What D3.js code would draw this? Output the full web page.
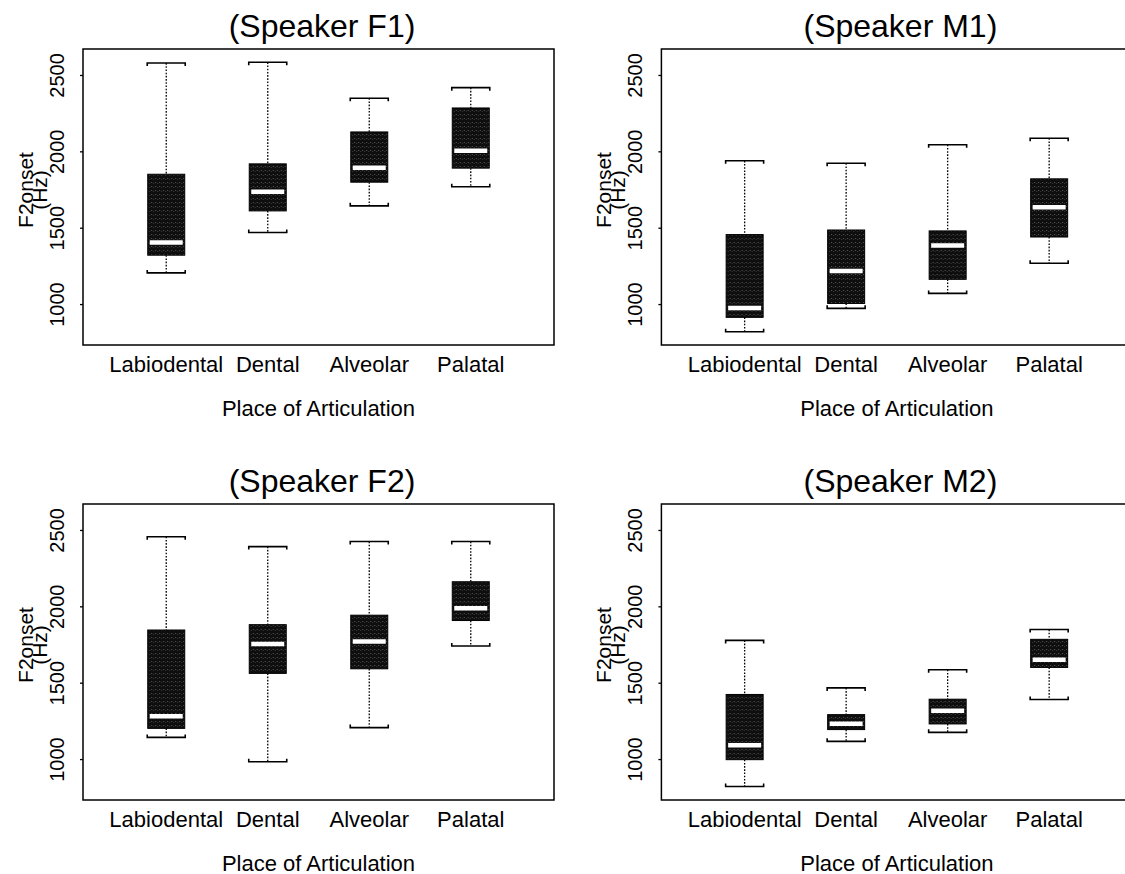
<!DOCTYPE html>
<html lang="en">
<head>
<meta charset="UTF-8" />
<title>F2 onset by place of articulation</title>
<script src="https://d3js.org/d3.v7.min.js"></script>
<style>
  body { margin: 0; background: #fff; font-family: "Liberation Sans", Arial, sans-serif; }
  svg { display: block; background: #fff; }
  .frame { fill: none; stroke: #000; stroke-width: 1.5; }
  .whisker { stroke: #000; stroke-width: 1.3; stroke-dasharray: 1.6,1.6; }
  .cap { fill: none; stroke: #000; stroke-width: 1.6; }
  .median { stroke: #fff; stroke-width: 4.5; }
  .title { font-size: 32px; fill: #000; }
  .cat { font-size: 22px; fill: #000; }
  .xlab { font-size: 22px; fill: #000; }
  .ylab { font-size: 21px; fill: #000; }
</style>
</head>
<body>
<svg id="chart" width="1125" height="874"></svg>
<script>
// data: five-number summaries [lower whisker, Q1, median, Q3, upper whisker]
const categories = ["Labiodental", "Dental", "Alveolar", "Palatal"];
const speakers = ["F1", "M1", "F2", "M2"];
const yTicks = [1000, 1500, 2000, 2500];

const statsF1 = [
  [1204, 1320, 1403, 1850, 2578],
  [1469, 1610, 1735, 1918, 2583],
  [1643, 1798, 1892, 2127, 2348],
  [1768, 1890, 2003, 2284, 2417]
];
const statsM1 = [
  [819, 913, 974, 1455, 1938],
  [972, 1004, 1216, 1485, 1922],
  [1070, 1162, 1383, 1479, 2043],
  [1267, 1439, 1634, 1820, 2086]
];
const statsF2 = [
  [1142, 1201, 1280, 1845, 2456],
  [982, 1561, 1753, 1880, 2391],
  [1206, 1591, 1769, 1942, 2424],
  [1740, 1907, 1988, 2161, 2424]
];
const statsM2 = [
  [820, 996, 1090, 1423, 1777],
  [1116, 1193, 1232, 1291, 1466],
  [1175, 1230, 1317, 1392, 1585],
  [1390, 1600, 1650, 1784, 1848]
];
const allStats = [statsF1, statsM1, statsF2, statsM2];

// layout
const panelLeft = [83, 661.4];
const panelTop = [49, 504];
const pw = 471, ph = 296;
const boxW = 37, capW = 38;

const svg = d3.select("#chart");
const defs = svg.append("defs");

const pat = defs.append("pattern")
  .attr("id", "speckle")
  .attr("width", 4).attr("height", 4)
  .attr("patternUnits", "userSpaceOnUse");
pat.append("rect").attr("width", 4).attr("height", 4).attr("fill", "#0e0e0e");
pat.append("rect").attr("x", 1).attr("y", 1).attr("width", 1).attr("height", 1).attr("fill", "#5a5a5a");
pat.append("rect").attr("x", 3).attr("y", 2).attr("width", 1).attr("height", 1).attr("fill", "#3a3a3a");

const x = d3.scaleLinear().domain([0.18, 4.82]).range([0, pw]);
const y = d3.scaleLinear().domain([732, 2670]).range([ph, 0]);

speakers.forEach((spk, i) => {
  const stats = allStats[i];
  const g = svg.append("g")
    .attr("transform", `translate(${panelLeft[i % 2]},${panelTop[Math.floor(i / 2)]})`);

  // title
  g.append("text")
    .attr("class", "title")
    .attr("x", 239).attr("y", -12)
    .attr("text-anchor", "middle")
    .text(`(Speaker ${spk})`);

  // y axis: ticks + rotated labels
  const yAxis = d3.axisLeft(y)
    .tickValues(yTicks)
    .tickFormat(d3.format("d"))
    .tickSize(3).tickSizeOuter(0).tickPadding(0);
  const ax = g.append("g").call(yAxis)
    .attr("font-size", null).attr("font-family", null);
  ax.select(".domain").remove();
  ax.selectAll(".tick line").attr("stroke", "#000").attr("stroke-width", 1.3);
  ax.selectAll(".tick text")
    .attr("x", null).attr("dy", null)
    .attr("text-anchor", "middle")
    .attr("transform", "translate(-19.5,0) rotate(-90)")
    .style("font-size", "20px")
    .style("font-family", "'Liberation Sans', Arial, sans-serif")
    .attr("fill", "#000");

  g.append("text").attr("class", "ylab")
    .attr("transform", `translate(-50,141) rotate(-90)`)
    .attr("text-anchor", "middle").text("F2onset");
  g.append("text").attr("class", "ylab")
    .attr("transform", `translate(-36,141) rotate(-90)`)
    .attr("text-anchor", "middle").text("(Hz)");

  // category labels
  g.selectAll(".cat").data(categories).join("text")
    .attr("class", "cat")
    .attr("x", (d, j) => x(j + 1))
    .attr("y", ph + 27)
    .attr("text-anchor", "middle")
    .text(d => d);

  g.append("text").attr("class", "xlab")
    .attr("x", pw / 2).attr("y", ph + 70.5)
    .attr("text-anchor", "middle")
    .text("Place of Articulation");

  // boxes
  const b = g.selectAll(".bx").data(stats).join("g")
    .attr("class", "bx")
    .attr("transform", (d, j) => `translate(${x(j + 1)},0)`);

  b.append("line").attr("class", "whisker")
    .attr("y1", d => y(d[4])).attr("y2", d => y(d[3]));
  b.append("line").attr("class", "whisker")
    .attr("y1", d => y(d[1])).attr("y2", d => y(d[0]));

  b.append("path").attr("class", "cap")
    .attr("d", d => `M${-capW / 2},${y(d[4]) + 3}V${y(d[4])}H${capW / 2}V${y(d[4]) + 3}`);
  b.append("path").attr("class", "cap")
    .attr("d", d => `M${-capW / 2},${y(d[0]) - 3}V${y(d[0])}H${capW / 2}V${y(d[0]) - 3}`);

  b.append("rect")
    .attr("x", -boxW / 2).attr("width", boxW)
    .attr("y", d => y(d[3]))
    .attr("height", d => y(d[1]) - y(d[3]))
    .attr("fill", "url(#speckle)")
    .attr("stroke", "#000").attr("stroke-width", 1);

  b.append("line").attr("class", "median")
    .attr("x1", -boxW / 2 + 2).attr("x2", boxW / 2 - 2)
    .attr("y1", d => y(d[2])).attr("y2", d => y(d[2]));

  // frame
  g.append("rect").attr("class", "frame")
    .attr("width", pw).attr("height", ph);
});
</script>
</body>
</html>
